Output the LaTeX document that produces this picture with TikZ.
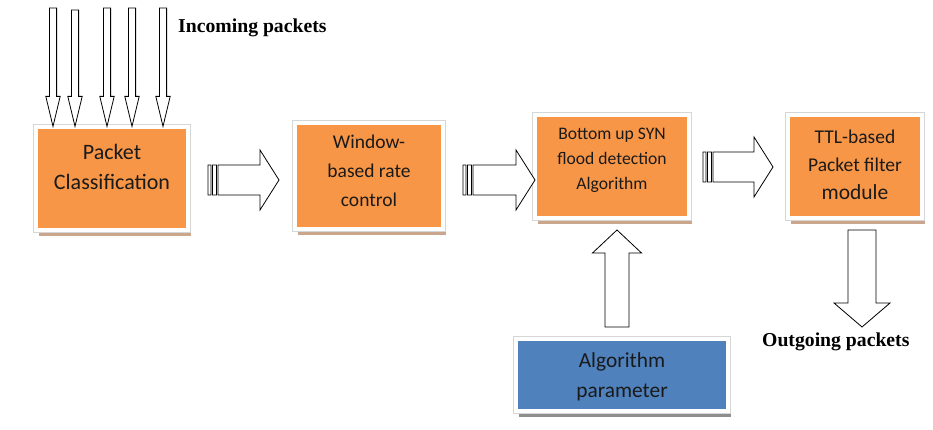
\documentclass[tikz,border=0pt]{standalone}
\usepackage{fontspec}
\setmainfont{Carlito}
\newfontfamily\labelfont{Liberation Serif}
\usetikzlibrary{calc}
\usetikzlibrary{shadows}

\definecolor{boxorange}{HTML}{F79646}
\definecolor{boxblue}{HTML}{4F81BD}
\definecolor{shadowtan}{HTML}{C9A68C}
\definecolor{shadowgray}{HTML}{8E8E8E}
\definecolor{framegray}{HTML}{D6D6D6}
\definecolor{boxtext}{HTML}{1A1A1A}

\tikzset{
  block/.style={rectangle, draw=framegray, line width=0.4pt, double=white,
    double distance=4pt, inner sep=0pt},
  orangeblock/.style={block, fill=boxorange,
    drop shadow={shadow xshift=3pt, shadow yshift=-6pt, fill=shadowtan, opacity=1}},
  blueblock/.style={block, fill=boxblue,
    drop shadow={shadow xshift=3pt, shadow yshift=-6pt, fill=shadowgray, opacity=1}},
  blk/.style={draw=black, line width=0.8pt, fill=white, line join=miter},
  packetlabel/.style={anchor=west, inner sep=0pt,
    font=\labelfont\bfseries\fontsize{19.7pt}{22pt}\selectfont}
}

% block arrows: start, tip, shaft half width, head half width, head length
\newcommand{\downblk}[5]{%
  \draw[blk] let \p1=(#1), \p2=(#2) in
    (\x1-#3,\y1) -- (\x1+#3,\y1) -- (\x1+#3,\y2+#5) -- (\x1+#4,\y2+#5) -- (\x1,\y2)
    -- (\x1-#4,\y2+#5) -- (\x1-#3,\y2+#5) -- cycle;
}
\newcommand{\upblk}[5]{%
  \draw[blk] let \p1=(#1), \p2=(#2) in
    (\x1-#3,\y1) -- (\x1+#3,\y1) -- (\x1+#3,\y2-#5) -- (\x1+#4,\y2-#5) -- (\x1,\y2)
    -- (\x1-#4,\y2-#5) -- (\x1-#3,\y2-#5) -- cycle;
}
% striped right arrow: tail, tip
\newcommand{\rightblk}[2]{%
  \draw[blk] let \p1=(#1), \p2=(#2) in
    (\x1,\y1-15pt) rectangle (\x1+3pt,\y1+15pt)
    (\x1+4.5pt,\y1-15pt) rectangle (\x1+8.5pt,\y1+15pt)
    (\x1+10pt,\y1-15pt) -- (\x2-19pt,\y1-15pt) -- (\x2-19pt,\y1-30pt) -- (\x2,\y1)
    -- (\x2-19pt,\y1+30pt) -- (\x2-19pt,\y1+15pt) -- (\x1+10pt,\y1+15pt) -- cycle;
}

\begin{document}
\begin{tikzpicture}[x=1pt, y=-1pt]
    \useasboundingbox (0,0) rectangle (933,430);

    \node[orangeblock, minimum width=152.8pt, minimum height=103.8pt,
      label={[align=center, text=boxtext, font=\fontsize{22pt}{30pt}\selectfont, yshift=11.5pt]center:Packet\\Classification}]
      (cls) at (112,178.5) {};
    \node[orangeblock, minimum width=148.8pt, minimum height=106.8pt,
      label={[align=center, text=boxtext, font=\fontsize{19.5pt}{29pt}\selectfont, yshift=5pt]center:Window-\\based rate\\control}]
      (win) at (369,176) {};
    \node[orangeblock, minimum width=154.8pt, minimum height=103.8pt,
      label={[align=center, text=boxtext, font=\fontsize{17.6pt}{25pt}\selectfont, yshift=6.5pt]center:Bottom up SYN\\flood detection\\Algorithm}]
      (syn) at (612,166.5) {};
    \node[orangeblock, minimum width=134.8pt, minimum height=103.8pt,
      label={[align=center, text=boxtext, font=\fontsize{19.5pt}{28pt}\selectfont, yshift=1.5pt]center:TTL-based\\Packet filter\\{\fontsize{21.5pt}{28pt}\selectfont module}}]
      (ttl) at (855,166.5) {};
    \node[blueblock, minimum width=212.8pt, minimum height=72.8pt,
      label={[align=center, text=boxtext, font=\fontsize{21.4pt}{30pt}\selectfont, yshift=-2pt]center:Algorithm\\parameter}]
      (par) at (622,375) {};

    \node[packetlabel] (inc) at (178,28) {Incoming packets};
    \node[packetlabel] (outg) at (762,342) {Outgoing packets};

    \coordinate (r1a) at (208,180);
    \coordinate (r1b) at (279,180);
    \coordinate (r2a) at (463,180);
    \coordinate (r2b) at (535,180);
    \coordinate (r3a) at (703,167);
    \coordinate (r3b) at (773,167);
    \coordinate (upa) at (617,327);
    \coordinate (upb) at (617,230);
    \coordinate (dna) at (862,230);
    \coordinate (dnb) at (862,327);

    \foreach \px/\ty in {53/8, 75/10, 107/8, 132/8, 163/8}
      \downblk{\px,\ty}{\px,0 |- cls.north}{3.6pt}{7.2pt}{30pt};

    \rightblk{r1a}{r1b}
    \rightblk{r2a}{r2b}
    \rightblk{r3a}{r3b}
    \upblk{upa}{upb}{12pt}{24.5pt}{23pt}
    \downblk{dna}{dnb}{14pt}{28pt}{24pt}
\end{tikzpicture}
\end{document}
